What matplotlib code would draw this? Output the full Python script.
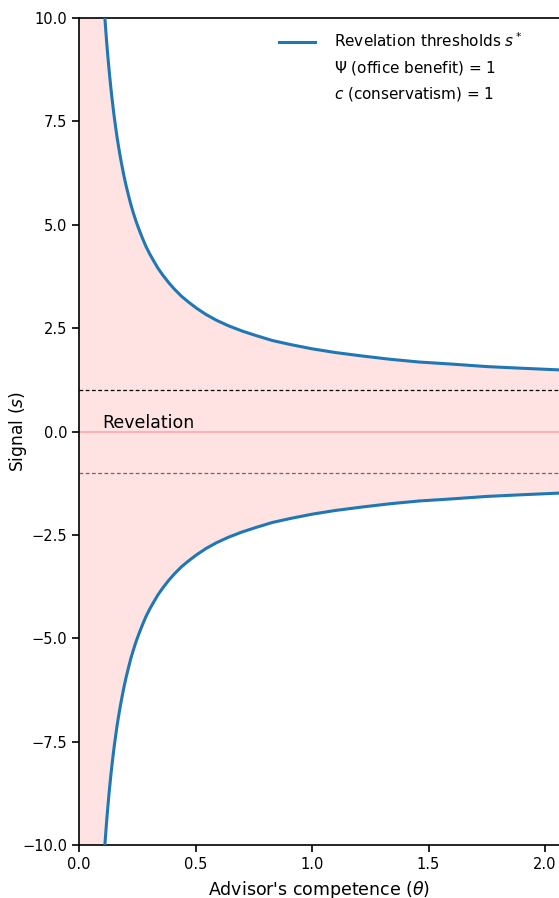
import matplotlib
matplotlib.use("Agg")
import matplotlib.pyplot as plt
import numpy as np

# Values
theta = [0.100, 0.102, 0.104, 0.106, 0.108, 0.110, 0.113, 0.116, 0.119, 0.122,
         0.125, 0.129, 0.133, 0.137, 0.141, 0.146, 0.151, 0.157, 0.163, 0.170,
         0.177, 0.185, 0.193, 0.202, 0.212, 0.222, 0.233, 0.245, 0.258, 0.272,
         0.287, 0.303, 0.320, 0.340, 0.360, 0.385, 0.410, 0.440, 0.470, 0.505,
         0.545, 0.590, 0.640, 0.700, 0.760, 0.830, 0.910, 1.000, 1.100, 1.210,
         1.330, 1.460, 1.600, 1.750, 1.900, 2.060]
s_upper = [11.00, 10.80, 10.62, 10.43, 10.26, 10.09, 9.85, 9.62, 9.40, 9.20,
           9.00, 8.75, 8.52, 8.30, 8.09, 7.85, 7.62, 7.37, 7.13, 6.88,
           6.65, 6.41, 6.18, 5.95, 5.72, 5.50, 5.29, 5.08, 4.88, 4.68,
           4.48, 4.30, 4.13, 3.94, 3.78, 3.60, 3.44, 3.27, 3.13, 2.98,
           2.83, 2.69, 2.56, 2.43, 2.32, 2.20, 2.10, 2.00, 1.91, 1.83,
           1.75, 1.68, 1.63, 1.57, 1.53, 1.49]
s_lower = [-v for v in s_upper]
office_benefit = 1
conservatism = 1
band = [-1, 1]
xlim = (0.0, 2.06)
ylim = (-10.0, 10.0)
xticks = [0.0, 0.5, 1.0, 1.5, 2.0]
yticks = [-10.0, -7.5, -5.0, -2.5, 0.0, 2.5, 5.0, 7.5, 10.0]

fig = plt.figure(figsize=(5.59, 8.98), dpi=100)
ax = fig.add_axes([79/559, 53/898, 1 - 79/559, 827/898])

pink = (1.0, 0.0, 0.0, 0.115)
fill_x = [xlim[0]] + theta
fill_hi = [ylim[1]] + s_upper
fill_lo = [ylim[0]] + s_lower
ax.fill_between(fill_x, fill_lo, fill_hi, color=pink, lw=0, zorder=1)

ax.axhline(0, color="#ffb0b0", lw=1.5, zorder=1.5)
ax.axhline(band[0], color="#6e6464", lw=0.9, ls=(0, (3, 2)), zorder=1.2)
ax.axhline(band[1], color="black", lw=0.9, ls=(0, (3, 2)), zorder=3)

ax.plot(theta, s_upper, color="#1f77b4", lw=2.2, zorder=4,
        label=r"Revelation thresholds $s^*$")
ax.plot(theta, s_lower, color="#1f77b4", lw=2.2, zorder=4)
ax.plot([], [], color="none", label=r"$\Psi$ (office benefit) = %d" % office_benefit)
ax.plot([], [], color="none", label=r"$c$ (conservatism) = %d" % conservatism)

ax.text(0.1, 0.0, "Revelation", fontsize=12.5, va="bottom", ha="left", zorder=5)

ax.set_xlim(*xlim)
ax.set_ylim(*ylim)
ax.set_xticks(xticks)
ax.set_yticks(yticks)
ax.tick_params(labelsize=10.5, length=5, width=1.2)
ax.set_xlabel(r"Advisor's competence ($\theta$)", fontsize=12.5)
ax.set_ylabel(r"Signal ($s$)", fontsize=12.3)
ax.xaxis.set_label_coords(0.5, -(890 - 845) / 827, transform=ax.transAxes)
ax.xaxis.label.set_va("center")
ax.yaxis.set_label_coords(-(79 - 18) / 480, 0.5, transform=ax.transAxes)
ax.yaxis.label.set_va("center")
for sp in ["left", "bottom", "top"]:
    ax.spines[sp].set_linewidth(1.2)
ax.spines["right"].set_visible(False)

leg = ax.legend(loc="upper left", bbox_to_anchor=(274/559, 1 - 27/898),
                bbox_transform=fig.transFigure, frameon=False, fontsize=11,
                handlelength=2.4, handletextpad=1.25, labelspacing=0.55,
                borderaxespad=0, borderpad=0.3)

fig.savefig("out.png", dpi=100)
